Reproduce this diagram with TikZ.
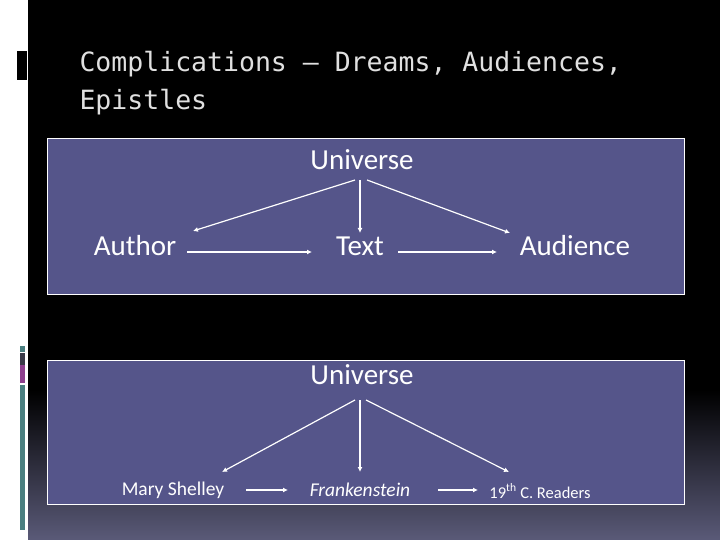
\documentclass[tikz,border=0pt]{standalone}
\usepackage{fontspec}
\setmainfont{Carlito}
\newfontfamily\titlefont{DejaVu Sans Mono}
\usetikzlibrary{arrows.meta}
\definecolor{boxfill}{HTML}{55558A}
\definecolor{teal1}{HTML}{4A7F80}
\definecolor{mag}{HTML}{8E3F8E}
\definecolor{darkg}{HTML}{3A3A48}
\definecolor{botgrey}{HTML}{5A5A78}
\tikzset{
  panel/.style={draw=white, line width=0.8pt, fill=boxfill},
  lbl/.style={text=white, inner sep=1pt, font=\fontsize{29}{31}\selectfont},
  small/.style={text=white, inner sep=1pt, font=\fontsize{19.5}{21}\selectfont},
  arr/.style={draw=white, line width=1.2pt, -{Latex[length=5pt,width=5pt]}}
}
\begin{document}
\begin{tikzpicture}[x=1pt,y=-1pt]
\useasboundingbox (0,0) rectangle (720,540);
\fill[white] (0,0) rectangle (28,540);
\fill[black] (28,0) rectangle (720,390);
\shade[top color=black, bottom color=botgrey] (28,390) rectangle (720,540);
\fill[black] (17,51) rectangle (27,80);
\fill[teal1] (20,346) rectangle (25,352);
\fill[darkg] (20,353) rectangle (25,365);
\fill[mag] (20,365) rectangle (25,383);
\fill[teal1] (20,385) rectangle (25,530);
\node[anchor=west, text=white!88!black, align=left, font=\titlefont\fontsize{26.5}{38}\selectfont] (title) at (76,83) {Complications – Dreams, Audiences,\\Epistles};
\draw[panel] (47,138) rectangle (684,294);
\draw[panel] (47,360) rectangle (684,504);
% top diagram
\node[lbl] (u1) at (362,160) {Universe};
\node[lbl] (a1) at (135,246) {Author};
\node[lbl] (t1) at (360,246) {Text};
\node[lbl] (r1) at (575,246) {Audience};
\coordinate (u1l) at (355,180); \coordinate (u1m) at (360,180); \coordinate (u1r) at (367,180);
\coordinate (a1e) at (193,231); \coordinate (t1e) at (360,233); \coordinate (r1e) at (510,233);
\draw[arr] (u1l) -- (a1e);
\draw[arr] (u1m) -- (t1e);
\draw[arr] (u1r) -- (r1e);
\draw[arr] (187,252) coordinate (h1) -- (312,252) coordinate (h2);
\draw[arr] (398,252) coordinate (h3) -- (497,252) coordinate (h4);
% bottom diagram
\node[lbl] (u2) at (362,375) {Universe};
\node[small] (a2) at (173,490) {Mary Shelley};
\node[small] (t2) at (360,490) {\itshape Frankenstein};
\node[text=white, inner sep=1pt, font=\fontsize{16.5}{18}\selectfont] (r2) at (540,491) {19\textsuperscript{th} C. Readers};
\coordinate (u2l) at (355,400); \coordinate (u2m) at (360,400); \coordinate (u2r) at (366,400);
\coordinate (a2e) at (222,472); \coordinate (t2e) at (360,472); \coordinate (r2e) at (509,472);
\draw[arr] (u2l) -- (a2e);
\draw[arr] (u2m) -- (t2e);
\draw[arr] (u2r) -- (r2e);
\draw[arr] (246,490) coordinate (h5) -- (288,490) coordinate (h6);
\draw[arr] (438,490) coordinate (h7) -- (478,490) coordinate (h8);
\end{tikzpicture}
\end{document}
